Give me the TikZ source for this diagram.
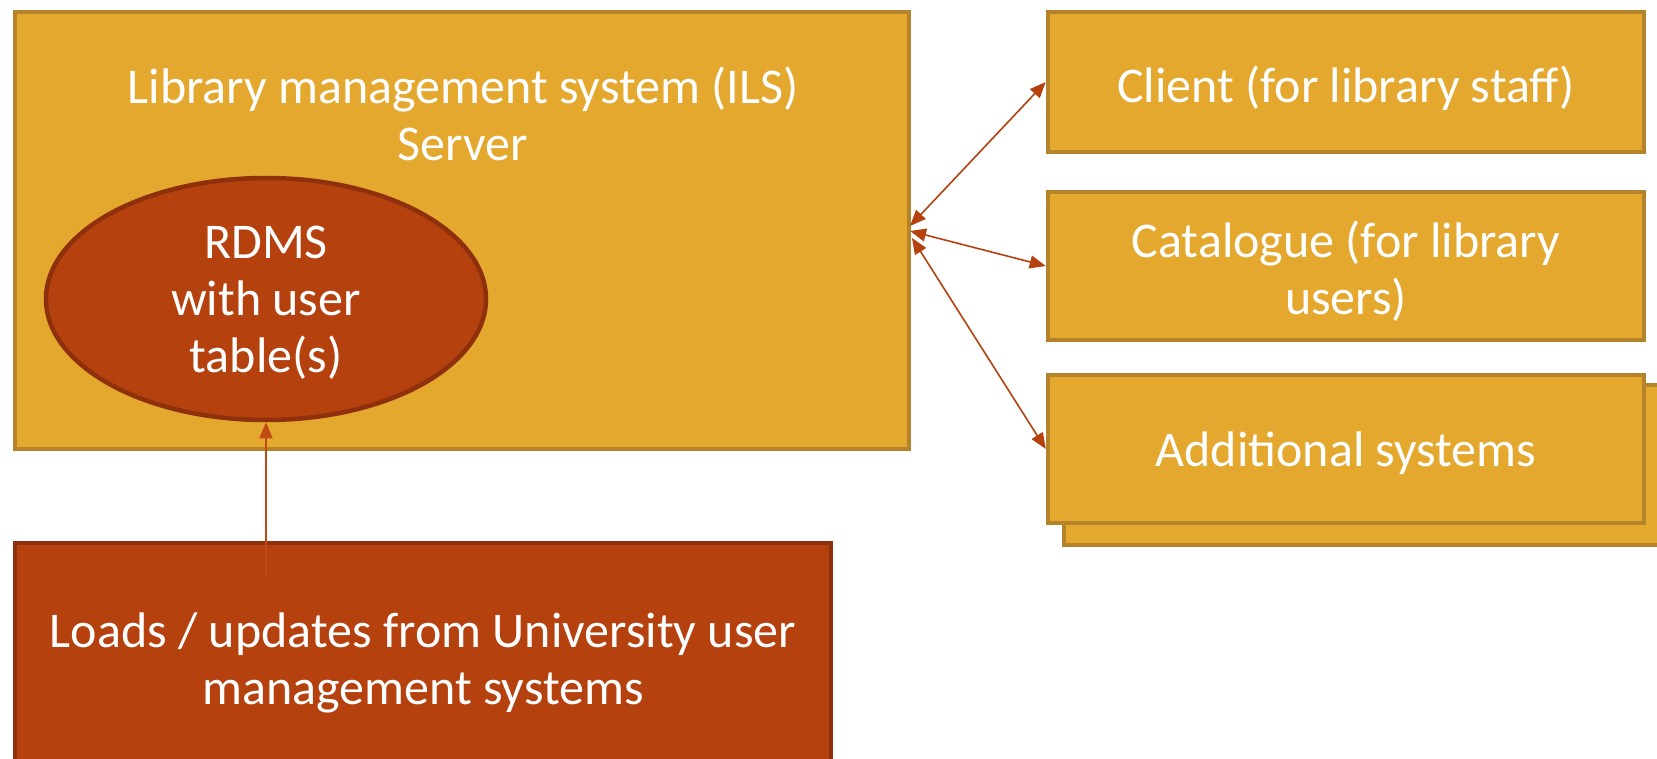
\documentclass[tikz,border=0pt]{standalone}
\usepackage{fontspec}
\setmainfont{Carlito}
\usetikzlibrary{arrows.meta,shapes.geometric}
\definecolor{gold}{HTML}{E5A82F}
\definecolor{goldline}{HTML}{B5832A}
\definecolor{rust}{HTML}{B5410F}
\definecolor{rustline}{HTML}{8E300B}
\definecolor{rustconn}{HTML}{C04A14}
\tikzset{
  goldbox/.style={draw=goldline, fill=gold, line width=4.5pt, inner sep=0pt, rectangle},
  rustbox/.style={draw=rustline, fill=rust, line width=4.5pt, inner sep=0pt, rectangle},
  txt/.style={text=white, font=\fontsize{50}{57}\selectfont, align=center, inner sep=0pt},
  conn/.style={draw=rust, line width=1.6pt, {Triangle[length=16pt,width=13pt]}-{Triangle[length=16pt,width=13pt]}},
  connone/.style={draw=rustconn, line width=1.6pt, -{Triangle[length=16pt,width=13pt]}}
}
\begin{document}
\begin{tikzpicture}[x=1pt,y=-1pt]
\useasboundingbox (0,0) rectangle (1657,759);
\fill[white] (0,0) rectangle (1657,759);
% server
\node[goldbox, minimum width=894pt, minimum height=437pt] (server) at (462,230.5) {};
\node[txt] (servertxt) at (463,114) {Library management system (ILS)\\Server};
% ellipse
\node[ellipse, draw=rustline, fill=rust, line width=4.5pt, minimum width=440pt, minimum height=242pt, inner sep=0pt] (rdms) at (266,299) {};
\node[txt] (rdmstxt) at (266,303) {RDMS\\with user\\table(s)};
% right boxes
\node[goldbox, minimum width=596pt, minimum height=140pt] (client) at (1346,82) {};
\node[txt] (clienttxt) at (1346,88) {Client (for library staff)};
\node[goldbox, minimum width=596pt, minimum height=148pt] (cat) at (1346,266) {};
\node[txt] (cattxt) at (1346,271) {Catalogue (for library\\users)};
\node[goldbox, minimum width=596pt, minimum height=160pt] (addback) at (1362,465) {};
\node[goldbox, minimum width=596pt, minimum height=148pt] (add) at (1346,449) {};
\node[txt] (addtxt) at (1346,453) {Additional systems};
% bottom box
\node[rustbox, minimum width=816pt, minimum height=260pt] (load) at (423,673) {};
\node[txt] (loadtxt) at (423,663) {Loads / updates from University user\\management systems};
% connectors
\coordinate (src) at (266,574);
\coordinate (hubA) at (910,226);
\coordinate (hubB) at (910,231);
\coordinate (hubC) at (912,238);
\draw[connone] (src) -- (rdms.south);
\draw[conn] (hubA) -- (client.west);
\draw[conn] (hubB) -- (cat.west);
\draw[conn] (hubC) -- (add.west);
\end{tikzpicture}
\end{document}
